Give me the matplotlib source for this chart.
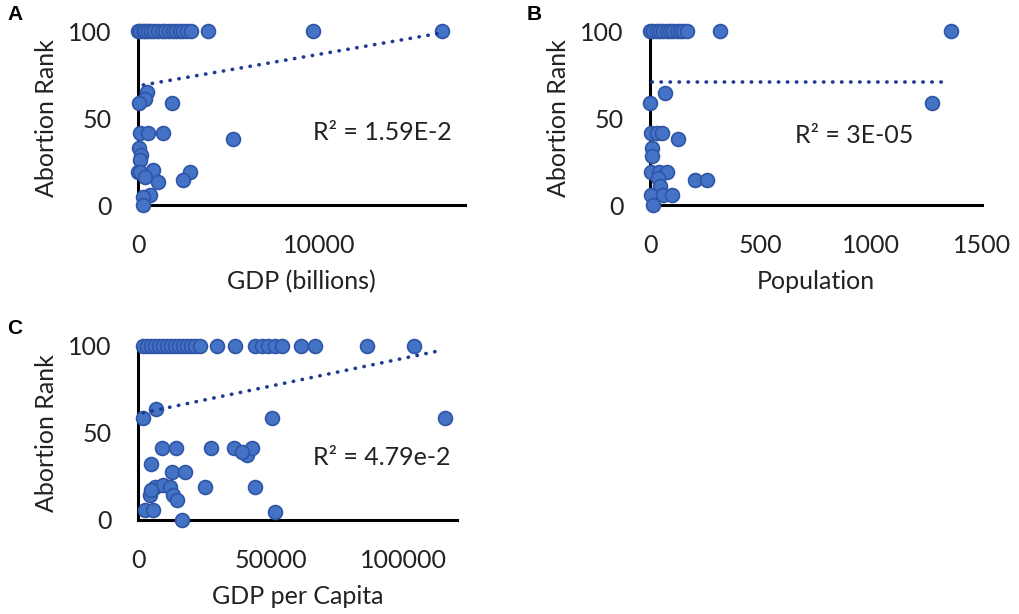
import matplotlib
matplotlib.use("Agg")
import matplotlib.pyplot as plt

plt.rcParams['font.family'] = ['Lato', 'DejaVu Sans']

# GDP (billions) vs abortion rank
gdp_x = [20, 120, 250, 400, 550, 700, 900, 1100, 1300, 1500, 1700, 1900, 2100,
         2300, 2500, 2700, 2900, 3850, 9650, 16760,
         490, 380, 30, 1850, 110, 550, 1380, 5220, 80, 150, 120, 20, 110, 830,
         380, 1100, 2860, 2480, 660, 280, 300]
gdp_y = [100] * 20 + \
        [65, 61, 58.5, 58.4, 41.4, 41.4, 41.4, 38, 33, 29, 26, 19, 19, 20,
         16.3, 13.4, 19, 14.4, 5.7, 4.6, 0]
gdp_trend_x = [290, 16600]
gdp_trend_y = [69, 98.7]

# Population (millions) vs abortion rank
pop_x = [2, 15, 30, 45, 60, 75, 90, 105, 120, 135, 150, 165, 315, 1360,
         68, 0, 1275, 5, 30, 55, 127, 8, 10, 5, 40, 75, 36, 45, 203, 257,
         5, 60, 100, 15]
pop_y = [100] * 14 + \
        [64.2, 58.6, 58.6, 41.4, 41.4, 41.4, 38, 33, 28, 19, 19, 19, 15.5,
         11, 14.4, 14.4, 5.7, 5.7, 5.7, 0]
pop_trend_x = [7, 1330]
pop_trend_y = [70.9, 70.9]

# GDP per capita vs abortion rank
gdppc_x = [1900, 3500, 5000, 6500, 8000, 9500, 11000, 12500, 14000, 15500,
           17000, 18500, 20000, 21500, 23300, 29600, 36500, 44000, 46500,
           49000, 51500, 54000, 61500, 66500, 86000, 103800,
           6770, 2000, 50300, 115400,
           8900, 14200, 27500, 36200, 40900, 43000, 39000,
           4770, 12650, 17600,
           4500, 6400, 9500, 12000, 13300, 14500, 5000,
           25200, 44000,
           2500, 5500, 51500, 16400]
gdppc_y = [100] * 26 + \
          [63.6, 58.4, 58.4, 58.4,
           41.2, 41.2, 41.2, 41.2, 37.4, 41.2, 39,
           32.2, 27.8, 27.8,
           14.4, 19.2, 20.1, 19.2, 14.4, 11.5, 17,
           19.2, 19.2,
           5.7, 5.7, 4.8, 0]
gdppc_trend_x = [1900, 113500]
gdppc_trend_y = [61.6, 97.3]

FILL = '#4472C4'
EDGE = '#2F55A8'
TREND = '#1F3A93'
TXT = '#222222'
FS = 18

fig = plt.figure(figsize=(10.2, 6.14), dpi=100)


def panel(rect, x, y, tx, ty, xlim, xticks, xlabel, r2, r2_pos):
    ax = fig.add_axes(rect)
    ax.plot(tx, ty, color=TREND, lw=2.6, linestyle=(0, (0.1, 2.4)),
            dash_capstyle='round', zorder=3, clip_on=False)
    ax.scatter(x, y, s=100, color=FILL, edgecolors=EDGE, linewidths=1.2,
               zorder=2, clip_on=False)
    ax.set_xlim(*xlim)
    ax.set_ylim(0, 100)
    ax.set_xticks(xticks)
    ax.set_yticks([0, 50, 100])
    for side in ('top', 'right'):
        ax.spines[side].set_visible(False)
    for side in ('left', 'bottom'):
        ax.spines[side].set_linewidth(2.2)
        ax.spines[side].set_color('black')
        ax.spines[side].set_zorder(1)
    ax.tick_params(length=0, labelsize=FS, labelcolor=TXT)
    ax.tick_params(axis='x', pad=21)
    ax.tick_params(axis='y', pad=19)
    ax.set_xlabel(xlabel, fontsize=FS, color=TXT)
    ax.set_ylabel('Abortion Rank', fontsize=FS, color=TXT)
    ax.xaxis.set_label_coords(0.5, -0.373)
    ax.yaxis.set_label_coords(-80 / (rect[2] * 1020), 0.5)
    ax.text(r2_pos[0], r2_pos[1], r2, transform=ax.transAxes, fontsize=FS,
            ha='left', va='center', color=TXT)
    return ax


panel([0.1353, 0.6661, 0.3206, 0.2834], gdp_x, gdp_y, gdp_trend_x, gdp_trend_y,
      (0, 18000), [0, 10000], 'GDP (billions)', 'R² = 1.59E-2', (0.535, 0.414))
panel([0.6373, 0.6661, 0.3255, 0.2834], pop_x, pop_y, pop_trend_x, pop_trend_y,
      (0, 1500), [0, 500, 1000, 1500], 'Population', 'R² = 3E-05', (0.437, 0.402))
panel([0.1353, 0.1531, 0.3127, 0.2834], gdppc_x, gdppc_y, gdppc_trend_x,
      gdppc_trend_y, (0, 120000), [0, 50000, 100000], 'GDP per Capita',
      'R² = 4.79e-2', (0.549, 0.362))

for letter, fx, fy in [('A', 7, 15), ('B', 527, 15), ('C', 7, 328)]:
    fig.text(fx / 1020, 1 - fy / 614, letter, fontsize=15, fontweight='bold',
             family='Liberation Sans', ha='left', va='center')

fig.savefig('out.png', dpi=100, facecolor='white')
